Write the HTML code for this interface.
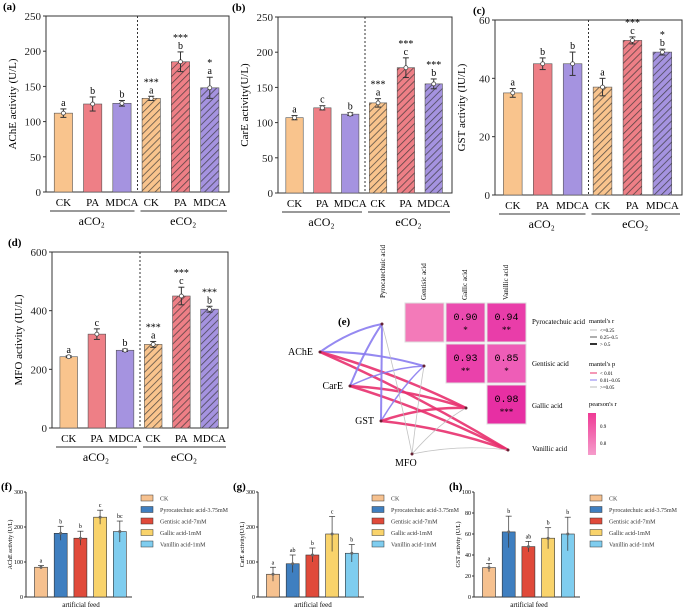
<!DOCTYPE html>
<html><head><meta charset="utf-8"><style>
body{margin:0;background:#fff;}
svg{display:block;font-family:"Liberation Serif",serif;}
</style></head><body>
<svg id="fig" width="685" height="612" viewBox="0 0 685 612" xmlns="http://www.w3.org/2000/svg">
<defs>
<pattern id="hatch" patternUnits="userSpaceOnUse" width="5" height="5" patternTransform="rotate(45)">
<line x1="0" y1="0" x2="0" y2="5" stroke="#333" stroke-width="1.6"/></pattern>
</defs>
</svg>
<script>
const NS="http://www.w3.org/2000/svg";
const svg=document.getElementById('fig');
function mk(tag,attrs,parent,text){const e=document.createElementNS(NS,tag);for(const k in attrs)e.setAttribute(k,attrs[k]);if(text!==undefined)e.textContent=text;(parent||svg).appendChild(e);return e;}

// ---------- data ----------
const groupLabels=["CK","PA","MDCA","CK","PA","MDCA"];
const aValues=[112,125,126,133,185,148];
const aErr=[6,10,4,3,14,15];
const aLetters=["a","b","b","a","b","a"];
const aStars=["","","","***","***","*"];
const bValues=[107,121,112,128,178,155];
const bErr=[3,3,2,6,14,7];
const bLetters=["a","c","b","a","c","b"];
const bStars=["","","","***","***","***"];
const cValues=[35,45,45,37,53,49];
const cErr=[1.5,2,4,3,1.2,1];
const cLetters=["a","b","b","a","c","b"];
const cStars=["","","","","***","*"];
const dValues=[243,320,265,285,450,405];
const dErr=[3,18,4,10,30,10];
const dLetters=["a","c","b","a","c","b"];
const dStars=["","","","***","***","***"];
const feedLabels=["CK","Pyrocatechuic acid-3.75mM","Gentisic acid-7mM","Gallic acid-1mM","Vanillin acid-1mM"];
const fValues=[85,182,168,228,187];
const fErr=[5,20,20,20,30];
const fLetters=["a","b","b","c","bc"];
const gValues=[65,95,120,180,125];
const gErr=[20,25,20,50,25];
const gLetters=["a","ab","b","c","b"];
const hValues=[28,62,48,56,60];
const hErr=[4,15,5,10,16];
const hLetters=["a","b","ab","b","b"];
const corrValues=[[null,0.90,0.94],[null,0.93,0.85],[null,null,0.98]];
const corrStars=[["","*","**"],["","**","*"],["","","***"]];

const baseCols=["#f9c48d","#ee7f86","#a593e0"];
const feedCols=["#f6c18f","#3f7fc0","#e04a3a","#f9d36b","#7fcdef"];

function panelA(o){
  const {x0,x1,yt,yb,max,step,vals,err,letters,stars,title,tx,ylab,name}=o;
  const g=mk('g',{});
  
  
  const ys=v=>yb-(v/max)*(yb-yt);
  mk('text',{x:tx,y:yt-6,'font-size':11,'font-weight':'bold'},g,title);
  mk('rect',{x:x0,y:yt,width:x1-x0,height:yb-yt,fill:'none',stroke:'#333','stroke-width':1},g);
  for(let v=0;v<=max+1e-9;v+=step){const y=ys(v);
    mk('line',{x1:x0-3,x2:x0,y1:y,y2:y,stroke:'#333'},g);
    mk('text',{x:x0-5,y:y+4,'font-size':11,'text-anchor':'end',fill:'#222'},g,String(v));}
  const w=x1-x0;const xs=i=>x0+w*(0.095+i*0.16);
  const mid=x0+w*0.5;
  mk('line',{x1:mid,x2:mid,y1:yt,y2:yb,stroke:'#333','stroke-dasharray':'2,2'},g);
  vals.forEach((v,i)=>{const cx=xs(i),bw=w*0.1;
    const r=mk('rect',{x:cx-bw/2,y:ys(v),width:bw,height:yb-ys(v),fill:baseCols[i%3],stroke:'#555','stroke-width':0.6},g);
    
    
    if(i>=3)mk('rect',{x:cx-bw/2,y:ys(v),width:bw,height:yb-ys(v),fill:'url(#hatch)',opacity:0.8},g);
    const ye=ys(v+err[i]),yl=ys(v-err[i]);
    mk('line',{x1:cx,x2:cx,y1:ye,y2:yl,stroke:'#333'},g);
    mk('line',{x1:cx-3,x2:cx+3,y1:ye,y2:ye,stroke:'#333'},g);
    mk('line',{x1:cx-3,x2:cx+3,y1:yl,y2:yl,stroke:'#333'},g);
    mk('circle',{cx:cx,cy:ys(v),r:2,fill:'#fff',stroke:'#333','stroke-width':0.7},g);
    mk('text',{x:cx,y:ye-3,'font-size':10,'text-anchor':'middle'},g,letters[i]);
    if(stars[i])mk('text',{x:cx,y:ye-11,'font-size':10,'text-anchor':'middle'},g,stars[i]);
    mk('text',{x:cx,y:yb+14,'font-size':11,'text-anchor':'middle'},g,groupLabels[i]);
  });
  mk('line',{x1:x0+4,x2:mid-3,y1:yb+19,y2:yb+19,stroke:'#333'},g);
  mk('line',{x1:mid+3,x2:x1-2,y1:yb+19,y2:yb+19,stroke:'#333'},g);
  mk('text',{x:(x0+mid)/2,y:yb+33,'font-size':12,'text-anchor':'middle'},g,'aCO₂');
  mk('text',{x:(mid+x1)/2,y:yb+33,'font-size':12,'text-anchor':'middle'},g,'eCO₂');
  const cy=(yt+yb)/2;
  mk('text',{x:0,y:0,'font-size':11,'text-anchor':'middle',transform:`translate(${x0-30},${cy}) rotate(-90)`},g,ylab);
}
panelA({x0:46,x1:229,yt:16,yb:192,max:250,step:50,vals:aValues,err:aErr,letters:aLetters,stars:aStars,title:'(a)',tx:3,ylab:'AChE activity (U/L)',name:'panel-a-ache'});
panelA({x0:278,x1:452,yt:17,yb:193,max:250,step:50,vals:bValues,err:bErr,letters:bLetters,stars:bStars,title:'(b)',tx:232,ylab:'CarE activity(U/L)',name:'panel-b-care'});
panelA({x0:495,x1:682,yt:20,yb:195,max:60,step:20,vals:cValues,err:cErr,letters:cLetters,stars:cStars,title:'(c)',tx:473,ylab:'GST activity (IU/L)',name:'panel-c-gst'});
panelA({x0:52,x1:228,yt:252,yb:428,max:600,step:200,vals:dValues,err:dErr,letters:dLetters,stars:dStars,title:'(d)',tx:8,ylab:'MFO activity (IU/L)',name:'panel-d-mfo'});

// ---------- bottom panels ----------
function panelF(o){
  const {x0,yt,yb,max,step,vals,err,letters,title,ylab,name,lx}=o;
  const g=mk('g',{});
  
  
  const ys=v=>yb-(v/max)*(yb-yt);
  mk('text',{x:x0-25,y:yt-2,'font-size':11,'font-weight':'bold'},g,title);
  mk('line',{x1:x0,x2:x0,y1:yt,y2:yb,stroke:'#333'},g);
  mk('line',{x1:x0,x2:x0+106,y1:yb,y2:yb,stroke:'#333'},g);
  for(let v=0;v<=max+1e-9;v+=step){const y=ys(v);
    mk('line',{x1:x0-2,x2:x0,y1:y,y2:y,stroke:'#333'},g);
    mk('text',{x:x0-3,y:y+2,'font-size':6,'text-anchor':'end'},g,String(v));}
  vals.forEach((v,i)=>{const cx=x0+15+i*19.7,bw=13;
    const r=mk('rect',{x:cx-bw/2,y:ys(v),width:bw,height:yb-ys(v),fill:feedCols[i],stroke:'#333','stroke-width':0.6},g);
    
    
    const ye=ys(v+err[i]),yl=ys(v-err[i]);
    mk('line',{x1:cx,x2:cx,y1:ye,y2:yl,stroke:'#333','stroke-width':0.7},g);
    mk('line',{x1:cx-3,x2:cx+3,y1:ye,y2:ye,stroke:'#333','stroke-width':0.7},g);
    mk('circle',{cx:cx,cy:ys(v),r:1.5,fill:'#666'},g);
    mk('text',{x:cx,y:ye-3,'font-size':6,'text-anchor':'middle'},g,letters[i]);
  });
  mk('text',{x:x0+55,y:yb+10,'font-size':7,'text-anchor':'middle'},g,'artificial feed');
  mk('text',{x:0,y:0,'font-size':6,'text-anchor':'middle',transform:`translate(${x0-14},${(yt+yb)/2}) rotate(-90)`},g,ylab);
  feedLabels.forEach((l,i)=>{const y=yt+6+i*11.5;
    const e=mk('rect',{x:lx,y:y-3,width:12,height:6,fill:feedCols[i],stroke:'#333','stroke-width':0.5},g);
    
    
    mk('text',{x:lx+19,y:y+2.5,'font-size':6,fill:'#333'},g,l);});
}
panelF({x0:26,yt:492,yb:597,max:300,step:100,vals:fValues,err:fErr,letters:fLetters,title:'(f)',ylab:'AChE activity (U/L)',name:'panel-f',lx:141});
panelF({x0:258,yt:492,yb:597,max:300,step:100,vals:gValues,err:gErr,letters:gLetters,title:'(g)',ylab:'CarE activity(U/L)',name:'panel-g',lx:372});
panelF({x0:474,yt:492,yb:597,max:100,step:20,vals:hValues,err:hErr,letters:hLetters,title:'(h)',ylab:'GST activity (U/L)',name:'panel-h',lx:590});

// ---------- panel e ----------
const ge=mk('g',{});


mk('text',{x:338,y:325,'font-size':11,'font-weight':'bold'},ge,'(e)');
const colX=[405,446,487],rowY=[303,344,385],cs=39;
const acids=["Pyrocatechuic acid","Gentisic acid","Gallic acid","Vanillic acid"];
acids.forEach((a,i)=>{const x=[385,426,467,508][i];
  mk('text',{x:0,y:0,'font-size':7,transform:`translate(${x},${i===0?298:300}) rotate(-90)`},ge,a);});
mk('rect',{x:colX[0],y:rowY[0],width:cs,height:cs,fill:'#f37ab9',stroke:'#ddd'},ge);
corrValues.forEach((row,r)=>row.forEach((v,c)=>{if(v===null)return;
  const t=(v-0.8)/0.2;
  const col=`rgb(${240-t*10},${110-t*70},${190-t*30})`;
  const cell=mk('rect',{x:colX[c],y:rowY[r],width:cs,height:cs,fill:col,stroke:'#ddd'},ge);
  
  
  mk('text',{x:colX[c]+cs/2,y:rowY[r]+17,'font-size':10,'text-anchor':'middle','font-family':'Liberation Mono,monospace'},ge,v.toFixed(2));
  mk('text',{x:colX[c]+cs/2,y:rowY[r]+30,'font-size':9,'text-anchor':'middle'},ge,corrStars[r][c]);
}));
[["Pyrocatechuic acid",324],["Gentisic acid",366],["Gallic acid",408],["Vanillic acid",451]].forEach(([t,y])=>mk('text',{x:532,y:y,'font-size':7},ge,t));
const nodes={AChE:[320,352],CarE:[350,386],GST:[381,421],MFO:[412,454]};
const tnodes=[[382,324],[424,366],[466,408],[508,450]];
const links=[["AChE",0,'#8a7cf0',2],["AChE",1,'#8a7cf0',2],["AChE",2,'#e8306e',2.5],["AChE",3,'#e8306e',2.5],
["CarE",0,'#8a7cf0',2],["CarE",1,'#8a7cf0',1.5],["CarE",2,'#e8306e',2.5],["CarE",3,'#e8306e',2.5],
["GST",0,'#8a7cf0',2],["GST",1,'#8a7cf0',1.5],["GST",2,'#e8306e',2.5],["GST",3,'#e8306e',2.5],
["MFO",0,'#bbb',0.8],["MFO",1,'#bbb',0.8],["MFO",2,'#bbb',0.8],["MFO",3,'#bbb',0.8]];
links.forEach(([n,t,c,w])=>{const [x1,y1]=nodes[n],[x2,y2]=tnodes[t];
  const mx=(x1+x2)/2,my=(y1+y2)/2-8;
  mk('path',{d:`M${x1},${y1} Q${mx},${my} ${x2},${y2}`,fill:'none',stroke:c,'stroke-width':w,opacity:0.9},ge);});
Object.entries(nodes).forEach(([k,[x,y]])=>{mk('circle',{cx:x,cy:y,r:1.5,fill:'#623'},ge);
  mk('text',{x:k==='MFO'?x-17:x-7,y:k==='MFO'?y+12:y+3,'font-size':10,'text-anchor':k==='MFO'?'start':'end'},ge,k);});
tnodes.forEach(([x,y])=>mk('circle',{cx:x,cy:y,r:1.5,fill:'#623'},ge));
const L=[["mantel's r",323],["mantel's p",366],["pearson's r",406]];
L.forEach(([t,y])=>mk('text',{x:589,y:y,'font-size':6.5},ge,t));
[["<=0.25",0.6,'#999'],["0.25~0.5",1.2,'#777'],["> 0.5",2,'#333']].forEach(([t,w,c],i)=>{const y=330+i*7;
  mk('line',{x1:590,x2:597,y1:y,y2:y,stroke:c,'stroke-width':w},ge);mk('text',{x:600,y:y+2,'font-size':5},ge,t);});
[["< 0.01",'#e8306e'],["0.01~0.05",'#8a7cf0'],[">=0.05",'#bbb']].forEach(([t,c],i)=>{const y=373+i*7;
  mk('line',{x1:590,x2:597,y1:y,y2:y,stroke:c,'stroke-width':1},ge);mk('text',{x:600,y:y+2,'font-size':5},ge,t);});
mk('defs',{},ge).innerHTML='<linearGradient id="pg" x1="0" y1="0" x2="0" y2="1"><stop offset="0" stop-color="#ef3a95"/><stop offset="1" stop-color="#f59ccb"/></linearGradient>';
mk('rect',{x:588,y:413,width:8,height:42,fill:'url(#pg)'},ge);
mk('text',{x:600,y:428,'font-size':5},ge,'0.9');
mk('text',{x:600,y:445,'font-size':5},ge,'0.8');
</script>
</body></html>
